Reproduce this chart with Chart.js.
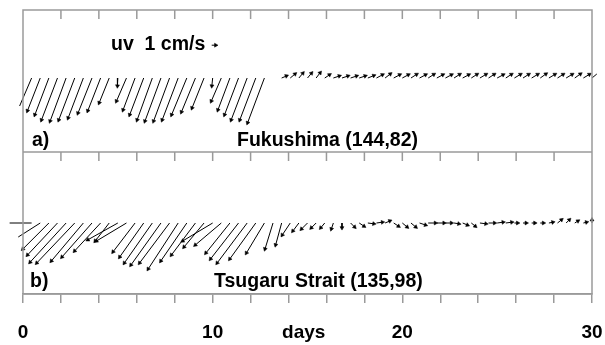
<!DOCTYPE html>
<html>
<head>
<meta charset="utf-8">
<script src="https://cdn.jsdelivr.net/npm/chart.js@4"></script>
<style>
  html, body { margin: 0; padding: 0; background: #fff; }
  #wrap { width: 605px; height: 345px; }
</style>
</head>
<body>
<div id="wrap"><canvas id="stickChart" width="605" height="345"></canvas></div>
<script>
// current vectors (cm/s), one every ~0.45 day over 30 days
const fukushimaU = [0, -3.0, -3.2, -3.5, -4.0, -4.0, -4.0, -3.8, -3.5, -3.2, -2.5, -0.1, -2.5, -3.0, -3.5, -3.8, -4.0, -4.0, -4.0, -3.8, -3.5, -3.0, -0.2, -2.5, -3.0, -3.5, -4.0, -4.0, -4.2, 0,
  1.2, 1.2, 1.0, 1.0, 1.0, 1.2, 1.5, 1.5, 1.5, 1.5, 1.5, 1.5, 1.3, 1.5, 1.5, 1.4, 1.5, 1.4, 1.5, 1.5, 1.4, 1.5, 1.4, 1.5, 1.4, 1.5, 1.4, 1.5, 1.4, 1.5, 1.4, 1.5, 1.4, 1.5, 1.4, 1.5, 1.2];
const fukushimaV = [0, -7.0, -8.2, -9.2, -10.5, -10.8, -10.5, -10.0, -8.8, -8.2, -6.2, -2.0, -5.8, -8.0, -9.2, -10.5, -10.8, -10.8, -10.5, -9.2, -8.5, -7.5, -2.0, -5.8, -8.0, -9.2, -10.5, -10.5, -11.2, 0,
  0.5, 1.0, 1.2, 1.2, 1.3, 0.8, 0.5, 0.5, 0.5, 0.5, 0.6, 0.8, 1.0, 0.8, 0.8, 0.9, 0.8, 0.9, 0.8, 0.8, 0.9, 0.8, 0.9, 0.9, 0.9, 0.8, 0.9, 0.9, 0.9, 0.9, 1.0, 0.9, 0.9, 0.9, 1.0, 0.9, 1.0];
const tsugaruU = [0, -5.5, -5.5, -6.5, -7.5, -9.0, -9.5, -8.0, -7.5, -6.5, -3.5, -7.5, -7.5, -5.5, -6.0, -7.0, -7.5, -7.5, -7.5, -6.5, -6.0, -5.0, -7.5, -6.5, -6.0, -7.0, -7.5, -6.5, -4.5, -2.0,
  -1.5, -2.0, -1.5, -1.5, -1.2, -1.0, -0.5, 0, 1.0, 1.2, 1.5, 1.5, 1.2, 1.2, 1.2, 1.2, 1.5, 1.8, 1.8, 1.5, 1.2, 1.2, 1.0, 1.5, 1.5, 1.5, 1.5, 0.8, 0.8, 0.8, 0.8, 1.0, 1.0, 0.8, 0.8, 0.8, 0];
const tsugaruV = [0, 0, -3.5, -6.5, -8.0, -9.8, -10.0, -9.5, -8.5, -7.0, -4.5, -4.2, -4.5, -7.2, -8.5, -10.0, -10.5, -10.0, -11.5, -9.5, -8.0, -6.0, -4.5, -5.5, -7.5, -9.0, -10.0, -9.0, -7.5, -6.5,
  -5.5, -3.0, -2.0, -1.5, -1.2, -1.2, -1.5, -1.2, -1.0, -0.8, -0.2, 0.2, 0.5, -0.8, -1.0, -1.0, -0.5, 0, 0, 0, -0.2, -0.5, -0.8, -0.2, 0, 0.2, 0.2, 0, 0, 0, 0, 0.2, 0.8, 0.8, 0.5, 0.2, 0.8];
const dayTicks = [0, 10, 20, 30];
const daysLabelAt = 14.8;
const stationNames = ['Fukushima (144,82)', 'Tsugaru Strait (135,98)'];

const dt = 30 / 66;
const days = fukushimaU.map((_, i) => i * dt);

// y axis is in cm/s, x axis in days; kx keeps 1 cm/s the same length both ways
const yMax = 71;
const kx = 30 / 569 * 4;
const baseA = 54, baseB = 17.75, sepY = 35.5;

function stickPoints(u, v, base) {
  const pts = [];
  u.forEach((uu, i) => {
    if (uu === 0 && v[i] === 0) return;
    pts.push({ x: days[i], y: base });
    pts.push({ x: days[i] + uu * kx, y: base + v[i] });
    pts.push({ x: days[i], y: null });
  });
  return pts;
}
function headPoints(u, v, base) {
  const pts = [];
  u.forEach((uu, i) => {
    if (uu === 0 && v[i] === 0) return;
    pts.push({ x: days[i] + uu * kx, y: base + v[i], rot: Math.atan2(uu, v[i]) * 180 / Math.PI });
  });
  return pts;
}

const headsA = headPoints(fukushimaU, fukushimaV, baseA);
const headsB = headPoints(tsugaruU, tsugaruV, baseB);
// reference arrow of 1 cm/s next to the "uv" label
const keyDay = 9.95, keyY = 62.2;
const keyStick = [{ x: keyDay, y: keyY }, { x: keyDay + 1 * kx, y: keyY }];
const keyHead = [{ x: keyDay + 1 * kx, y: keyY, rot: 90 }];

const frameColor = '#9a9a9a';
const textFont = 'bold 19.5px "Liberation Sans", Arial, sans-serif';

const framePlugin = {
  id: 'frame',
  afterDraw(chart) {
    const { ctx, chartArea: a, scales } = chart;
    const xs = scales.x, ys = scales.y;
    ctx.save();
    ctx.strokeStyle = frameColor;
    ctx.lineWidth = 1.5;
    ctx.strokeRect(a.left, a.top, a.right - a.left, a.bottom - a.top);
    const sy = ys.getPixelForValue(sepY);
    ctx.beginPath();
    ctx.moveTo(a.left, sy);
    ctx.lineTo(a.right, sy);
    for (let d = 2; d < 30; d += 2) {
      const px = xs.getPixelForValue(d);
      ctx.moveTo(px, a.top);
      ctx.lineTo(px, a.top + 9);
      ctx.moveTo(px, sy);
      ctx.lineTo(px, sy + 9);
    }
    ctx.stroke();

    ctx.fillStyle = '#000';
    ctx.font = textFont;
    ctx.textBaseline = 'middle';
    ctx.textAlign = 'left';
    ctx.fillText('uv  1 cm/s', 111, 45);
    ctx.fillText('a)', 32, 141);
    ctx.fillText(stationNames[0], 237, 141);
    ctx.fillText('b)', 30, 282);
    ctx.fillText(stationNames[1], 214, 282);
    ctx.restore();
  }
};

const lineDs = (data) => ({
  type: 'scatter', data, showLine: true, borderColor: '#000', borderWidth: 1,
  pointRadius: 0, fill: false, tension: 0, spanGaps: false, clip: false
});
const headDs = (data) => ({
  type: 'scatter', data, pointStyle: 'triangle', pointRadius: 2.3, pointHoverRadius: 2.3, clip: false,
  pointRotation: data.map(p => p.rot), backgroundColor: '#000', borderColor: '#000', borderWidth: 0.5
});

const ctx = document.getElementById('stickChart').getContext('2d');
const stickChart = new Chart(ctx, {
  type: 'scatter',
  data: {
    datasets: [
      lineDs(stickPoints(fukushimaU, fukushimaV, baseA)),
      lineDs(stickPoints(tsugaruU, tsugaruV, baseB)),
      lineDs(keyStick),
      headDs(headsA),
      headDs(headsB),
      headDs(keyHead)
    ]
  },
  options: {
    responsive: false,
    animation: false,
    devicePixelRatio: 1,
    layout: { padding: { left: 23, right: 13, top: 10, bottom: 0 } },
    plugins: { legend: { display: false }, tooltip: { enabled: false } },
    scales: {
      x: {
        type: 'linear', min: 0, max: 30,
        afterBuildTicks: (axis) => {
          const ticks = [];
          for (let d = 0; d <= 30; d += 1) {
            ticks.push({ value: d });
            if (d === 14) ticks.push({ value: daysLabelAt });
          }
          axis.ticks = ticks;
        },
        afterFit: (axis) => {
          axis.height = 51;
          axis.paddingLeft = 0;
          axis.paddingRight = 0;
        },
        ticks: {
          autoSkip: false, maxRotation: 0, padding: 18, color: '#000',
          font: { family: '"Liberation Sans", Arial, sans-serif', size: 19, weight: 'bold' },
          callback: (val) => dayTicks.includes(val) ? String(val) : (val === daysLabelAt ? 'days' : '')
        },
        grid: {
          drawOnChartArea: false, drawTicks: true, tickLength: 9, lineWidth: 1.5,
          color: (c) => (c.tick && Number.isInteger(c.tick.value) && c.tick.value % 2 === 0) ? frameColor : 'rgba(0,0,0,0)'
        },
        border: { display: true, color: frameColor, width: 1.5 }
      },
      y: { display: false, min: 0, max: yMax }
    }
  },
  plugins: [framePlugin]
});
</script>
</body>
</html>
